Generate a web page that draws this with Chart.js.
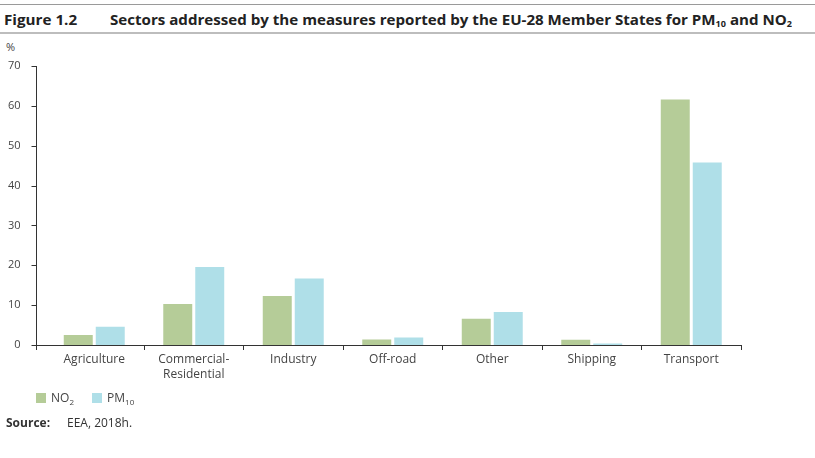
<!DOCTYPE html>
<html>
<head>
<meta charset="utf-8">
<script src="https://cdn.jsdelivr.net/npm/chart.js@4"></script>
<style>
    body { margin: 0; width: 815px; height: 458px; position: relative; background: #fff; font-family: "Open Sans", sans-serif; color: #333; overflow: hidden; }
    .rule-top { position: absolute; left: 0; top: 4px; width: 815px; height: 1px; background: #9a9a9a; }
    .rule-bottom { position: absolute; left: 0; top: 32px; width: 815px; height: 2px; background: #bdbdbd; }
    .title { position: absolute; top: 9px; font-weight: bold; font-size: 15px; white-space: nowrap; transform-origin: left center; color: #222; }
    .title sub { font-size: 9px; vertical-align: -2px; }
    .unit { position: absolute; left: 6px; top: 39px; font-size: 11px; color: #444; }
    #chartBox { position: absolute; left: 0; top: 0; width: 815px; height: 458px; }
    .legend { position: absolute; top: 389px; left: 36px; font-size: 12px; color: #444; }
    .legend span.box { display: inline-block; width: 10px; height: 10px; vertical-align: -1px; margin-right: 5px; }
    .legend span.item { margin-right: 15px; }
    .legend sub { font-size: 8px; vertical-align: -3px; }
    .source { position: absolute; top: 414px; left: 6px; font-size: 12px; color: #333; }
    .source b { display: inline-block; width: 61px; }
</style>
</head>
<body>
<div class="rule-top"></div>
<div class="title" id="figNo" style="left:4px">Figure 1.2</div>
<div class="title" id="figTitle" style="left:110px">Sectors addressed by the measures reported by the EU-28 Member States for PM<sub>10</sub> and NO<sub>2</sub></div>
<div class="rule-bottom"></div>
<div class="unit">%</div>
<div id="chartBox"><canvas id="sectorsChart"></canvas></div>
<div class="legend">
    <span class="item"><span class="box" style="background:#b5cc98"></span>NO<sub>2</sub></span>
    <span class="item"><span class="box" style="background:#afdfe8"></span>PM<sub>10</sub></span>
</div>
<div class="source"><b>Source:</b>EEA, 2018h.</div>

<script>
// squeeze the title into the width it has in the report
const titleEl = document.getElementById('figTitle');
titleEl.style.transform = 'scaleX(' + (682 / titleEl.offsetWidth) + ')';
const figNo = document.getElementById('figNo');
figNo.style.transform = 'scaleX(' + (73 / figNo.offsetWidth) + ')';

const sectors = ['Agriculture', ['Commercial-', 'Residential'], 'Industry', 'Off-road', 'Other', 'Shipping', 'Transport'];
const no2 = [2.5, 10.3, 12.3, 1.4, 6.6, 1.3, 61.6];
const pm10 = [4.6, 19.6, 16.7, 1.9, 8.3, 0.4, 45.8];
const yMax = 70;
const yStep = 10;

// y axis sits a few px left of the first category, so draw it by hand
const axisLines = {
    id: 'axisLines',
    afterDraw(chart) {
        const c = chart.ctx;
        const y = chart.scales.y;
        const area = chart.chartArea;
        const ax = 36.5;
        c.save();
        c.strokeStyle = '#333';
        c.lineWidth = 1;
        c.beginPath();
        c.moveTo(ax, y.getPixelForValue(yMax));
        c.lineTo(ax, area.bottom + 5);
        for (let v = 0; v <= yMax; v += yStep) {
            const py = Math.round(y.getPixelForValue(v)) + 0.5;
            c.moveTo(ax - 5, py);
            c.lineTo(ax, py);
        }
        const by = Math.round(area.bottom) + 0.5;
        c.moveTo(ax, by);
        c.lineTo(area.left, by);
        c.stroke();
        c.restore();
    }
};

const ctx = document.getElementById('sectorsChart');
new Chart(ctx, {
    type: 'bar',
    data: {
        labels: sectors,
        datasets: [{
            label: 'NO2',
            data: no2,
            backgroundColor: '#b5cc98',
            categoryPercentage: 0.643,
            barPercentage: 0.906,
        }, {
            label: 'PM10',
            data: pm10,
            backgroundColor: '#afdfe8',
            categoryPercentage: 0.643,
            barPercentage: 0.906,
        }]
    },
    options: {
        responsive: true,
        maintainAspectRatio: false,
        animation: false,
        layout: {
            padding: { top: 66, right: 74, left: 0, bottom: 0 }
        },
        plugins: {
            legend: false,
            tooltip: { enabled: false }
        },
        scales: {
            x: {
                afterFit: (scale) => { scale.height = 113; },
                border: { color: '#333', width: 1 },
                grid: {
                    drawOnChartArea: false,
                    tickLength: 5,
                    color: (c) => c.index === 0 ? 'rgba(0,0,0,0)' : '#333',
                },
                ticks: {
                    autoSkip: false,
                    maxRotation: 0,
                    padding: 2,
                    color: '#444',
                    font: { family: 'Open Sans', size: 12, lineHeight: 1.25 }
                }
            },
            y: {
                min: 0,
                max: yMax,
                afterFit: (scale) => { scale.width = 44.5; },
                border: { display: false },
                grid: { display: false },
                ticks: {
                    stepSize: yStep,
                    padding: 16,
                    color: '#444',
                    font: { family: 'Open Sans', size: 11 }
                }
            }
        }
    },
    plugins: [axisLines]
});
</script>
</body>
</html>
